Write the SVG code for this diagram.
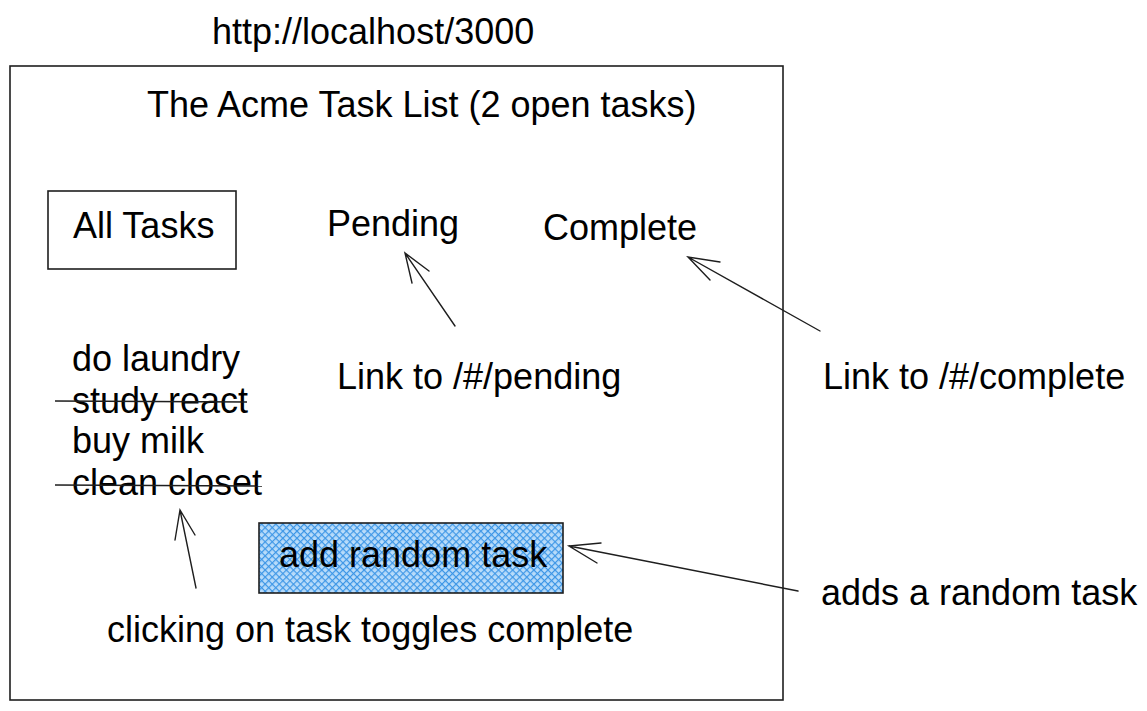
<svg xmlns="http://www.w3.org/2000/svg" width="1147" height="711" viewBox="0 0 1147 711">
<style>
text{font-family:"Liberation Sans",Arial,sans-serif;font-size:36px;fill:#000}
.frame{fill:none;stroke:#1e1e1e;stroke-width:1.6}
.conn{fill:none;stroke:#1e1e1e;stroke-width:1.4;stroke-linecap:round}
.strike{stroke:#1e1e1e;stroke-width:1.6}
</style>
<defs>
<pattern id="hatch" width="5" height="5" patternUnits="userSpaceOnUse" patternTransform="rotate(45)">
<rect width="5" height="5" fill="#b9dcfa"/>
<line x1="0" y1="0" x2="0" y2="5" stroke="#3d96e6" stroke-width="2.4"/>
<line x1="0" y1="0" x2="5" y2="0" stroke="#3d96e6" stroke-width="2.4"/>
</pattern>
</defs>
<rect width="1147" height="711" fill="#fff"/>
<g id="url"><text x="212" y="44">http://localhost/3000</text></g>
<g id="browser-frame"><rect class="frame" x="10" y="66" width="773" height="634"/></g>
<g id="title"><text x="147" y="117">The Acme Task List (2 open tasks)</text></g>
<g id="all-tasks"><rect class="frame" x="48" y="191" width="188" height="78"/><text x="73" y="238">All Tasks</text></g>
<g id="pending"><text x="327" y="236">Pending</text></g>
<g id="complete"><text x="543" y="240">Complete</text></g>
<g id="task-list">
<text x="72" y="371">do laundry</text>
<text x="72" y="413">study react</text>
<line class="strike" x1="55" y1="401" x2="247" y2="402"/>
<text x="72" y="453">buy milk</text>
<text x="72" y="495">clean closet</text>
<line class="strike" x1="55" y1="485" x2="262" y2="486"/>
</g>
<g id="pending-label"><text x="337" y="389">Link to /#/pending</text></g>
<g id="complete-label"><text x="823" y="389">Link to /#/complete</text></g>
<g id="add-button"><rect x="259" y="523" width="304" height="70" fill="url(#hatch)" stroke="#1e1e1e" stroke-width="1.6"/><text x="279" y="567">add random task</text></g>
<g id="add-label"><text x="821" y="605">adds a random task</text></g>
<g id="toggle-label"><text x="107" y="642">clicking on task toggles complete</text></g>
<g id="connectors">
<path class="conn" d="M455 326 L405 253 M412 283 L405 253 L429 271"/>
<path class="conn" d="M820 331 L688 257 M720 262 L688 257 L710 280"/>
<path class="conn" d="M196 588 L180 510 M175 540 L180 510 L195 535"/>
<path class="conn" d="M798 591 L569 546 M601 543 L569 546 L597 563"/>
</g>
</svg>
